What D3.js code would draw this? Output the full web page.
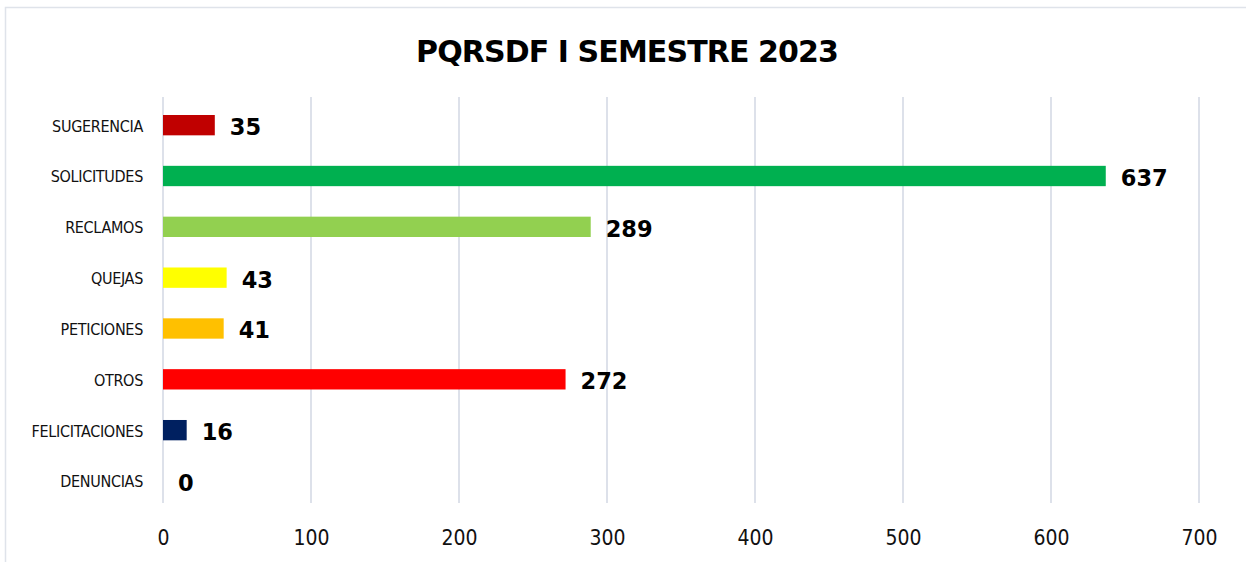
<!DOCTYPE html>
<html><head><meta charset="utf-8">
<script src="https://cdn.jsdelivr.net/npm/d3@7"></script>
<style>body{margin:0;background:#fff}svg{display:block}</style>
</head><body>
<script>
const categories = ["SUGERENCIA","SOLICITUDES","RECLAMOS","QUEJAS","PETICIONES","OTROS","FELICITACIONES","DENUNCIAS"];
const values = [35, 637, 289, 43, 41, 272, 16, 0];
const colors = ["#C00000","#00B050","#92D050","#FFFF00","#FFC000","#FF0000","#002060","#4472C4"];
const xTicks = [0,100,200,300,400,500,600,700];
const title = "PQRSDF I SEMESTRE 2023";

const W = 1246, H = 562;
const svg = d3.select("body").append("svg").attr("width", W).attr("height", H);
svg.append("rect").attr("x",5.5).attr("y",7.5).attr("width",1250).attr("height",600)
  .attr("fill","#fff").attr("stroke","#dfe3ea").attr("stroke-width",1.5);

const x = d3.scaleLinear().domain([0,700]).range([163,1199]);
const y = d3.scaleBand().domain(categories).range([99.75,506.4]).paddingInner(0.6).paddingOuter(0.3);

svg.append("text").attr("x", 627).attr("y", 62).attr("text-anchor","middle")
  .attr("font-family","DejaVu Sans, Verdana, sans-serif").attr("font-weight","bold")
  .attr("font-size",30).attr("letter-spacing","-0.9").text(title);

// gridlines
svg.append("g").selectAll("line").data(xTicks).join("line")
  .attr("x1",d=>x(d)).attr("x2",d=>x(d)).attr("y1",97).attr("y2",503)
  .attr("stroke","#dde1ea").attr("stroke-width",2);

// x axis labels
const xa = svg.append("g").attr("transform","translate(0,503)")
  .call(d3.axisBottom(x).tickValues(xTicks).tickSize(0).tickPadding(27));
xa.select(".domain").remove();
xa.selectAll("text").attr("font-family","DejaVu Sans Condensed, DejaVu Sans, sans-serif").attr("font-size",21).attr("fill","#111");

// y axis labels
const ya = svg.append("g").attr("transform","translate(150,0)")
  .call(d3.axisLeft(y).tickSize(0).tickPadding(7));
ya.select(".domain").remove();
ya.selectAll("text").attr("font-family","DejaVu Sans Condensed, DejaVu Sans, sans-serif")
  .attr("font-size",16).attr("fill","#111").attr("letter-spacing","-0.3").attr("dy","0.4em");

// bars
svg.append("g").selectAll("rect").data(categories).join("rect")
  .attr("x", x(0)).attr("y", d=>y(d)).attr("height", y.bandwidth())
  .attr("width", (d,i)=>x(values[i])-x(0)).attr("fill",(d,i)=>colors[i]);

// value labels
svg.append("g").selectAll("text").data(categories).join("text")
  .attr("x",(d,i)=>x(values[i])+15).attr("y",d=>y(d)+y.bandwidth()/2+10)
  .attr("font-family","DejaVu Sans, Verdana, sans-serif").attr("font-weight","bold")
  .attr("font-size",22.5).attr("fill","#000")
  .text((d,i)=>values[i]);
</script>
</body></html>
